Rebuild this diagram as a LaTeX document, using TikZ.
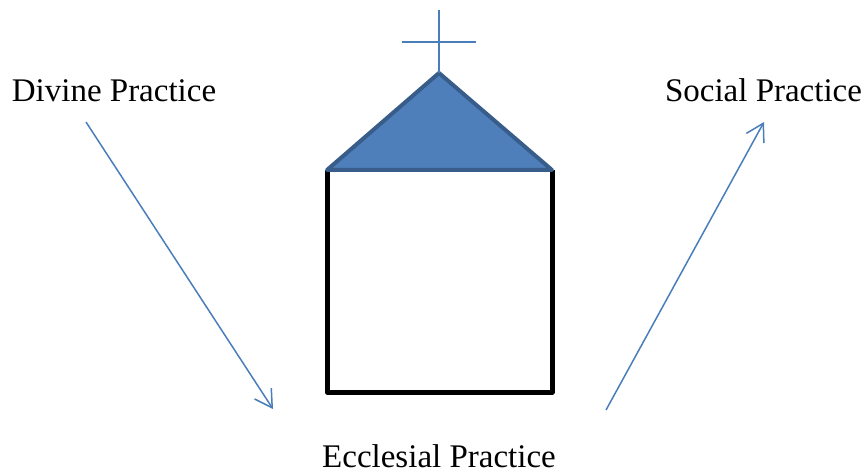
\documentclass[tikz,border=0pt]{standalone}
\usepackage{fontspec}
\setmainfont{Liberation Serif}
\usetikzlibrary{arrows.meta}
\definecolor{arrowblue}{RGB}{74,126,187}
\definecolor{roofblue}{RGB}{78,127,186}
\definecolor{roofline}{RGB}{56,93,138}
\tikzset{
	label text/.style={inner sep=0pt,anchor=base,font=\fontsize{33pt}{36pt}\selectfont},
	thin arrow/.style={draw=arrowblue,line width=1.5pt,-{Straight Barb[length=17pt,width=20pt]}}
}
\begin{document}
\begin{tikzpicture}[x=1pt,y=-1pt]
	\useasboundingbox (0,0) rectangle (864,473);
	\coordinate (A) at (327,170);
	\coordinate (B) at (552,170);
	\coordinate (C) at (552,392);
	\coordinate (D) at (327,392);
	\coordinate (S) at (439,73);
	\coordinate (T) at (439,10);
	\coordinate (L) at (402,42);
	\coordinate (R) at (476,42);
	\draw[line width=5pt,line join=round] (A)--(D)--(C)--(B);
	\draw[fill=roofblue,draw=roofline,line width=4pt,line join=round] (A)--(S)--(B)--cycle;
	\draw[draw=arrowblue,line width=1.8pt] (S)--(T) (L)--(R);
	\node[label text] (divine) at (114,102) {Divine Practice};
	\node[label text] (social) at (763.5,102) {Social Practice};
	\node[label text] (ecclesial) at (439,467.5) {Ecclesial Practice};
	\coordinate (d1) at (86,122);
	\coordinate (d2) at (273,409);
	\coordinate (s1) at (606,410);
	\coordinate (s2) at (764,122);
	\draw[thin arrow] (d1)--(d2);
	\draw[thin arrow] (s1)--(s2);
\end{tikzpicture}
\end{document}
